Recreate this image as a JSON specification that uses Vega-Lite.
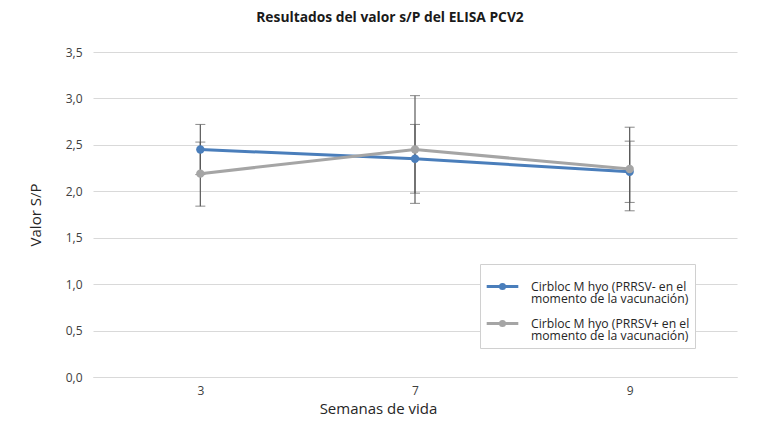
{
  "$schema": "https://vega.github.io/schema/vega-lite/v6.json",
  "width": 644,
  "height": 325,
  "autosize": "none",
  "padding": {"left": 93, "top": 52, "right": 43, "bottom": 51},
  "background": "white",
  "config": {
    "font": "Open Sans",
    "view": {"stroke": null},
    "axis": {"labelFont": "Open Sans", "titleFont": "Open Sans", "labelColor": "#404040", "titleColor": "#262626", "titleFontWeight": "normal"}
  },
  "title": {
    "text": "Resultados del valor s/P del ELISA PCV2",
    "font": "Open Sans",
    "fontSize": 13.8,
    "fontWeight": "bold",
    "color": "#1a1a1a",
    "anchor": "middle",
    "dx": -25,
    "offset": 21
  },
  "data": {
    "values": [
      {"serie": "Cirbloc M hyo (PRRSV- en el momento de la vacunación)", "semana": "3", "valor": 2.45, "bajo": 2.18, "alto": 2.72},
      {"serie": "Cirbloc M hyo (PRRSV- en el momento de la vacunación)", "semana": "7", "valor": 2.35, "bajo": 1.98, "alto": 2.72},
      {"serie": "Cirbloc M hyo (PRRSV- en el momento de la vacunación)", "semana": "9", "valor": 2.21, "bajo": 1.88, "alto": 2.54},
      {"serie": "Cirbloc M hyo (PRRSV+ en el momento de la vacunación)", "semana": "3", "valor": 2.19, "bajo": 1.84, "alto": 2.53},
      {"serie": "Cirbloc M hyo (PRRSV+ en el momento de la vacunación)", "semana": "7", "valor": 2.45, "bajo": 1.87, "alto": 3.03},
      {"serie": "Cirbloc M hyo (PRRSV+ en el momento de la vacunación)", "semana": "9", "valor": 2.24, "bajo": 1.79, "alto": 2.69}
    ]
  },
  "encoding": {
    "x": {
      "field": "semana",
      "type": "ordinal",
      "sort": ["3", "7", "9"],
      "scale": {"type": "point", "padding": 0.5},
      "axis": {
        "title": "Semanas de vida",
        "labelAngle": 0,
        "labelFontSize": 12,
        "labelPadding": 8,
        "ticks": false,
        "domainColor": "#d9d9d9",
        "domainWidth": 1,
        "titleFontSize": 15,
        "titlePadding": 5,
        "titleX": 285,
        "titleAnchor": "middle"
      }
    }
  },
  "layer": [
    {
      "mark": {"type": "errorbar", "ticks": {"size": 10, "color": "#595959", "strokeWidth": 1}, "rule": {"color": "#595959", "strokeWidth": 1.2}},
      "encoding": {
        "y": {"field": "bajo", "type": "quantitative", "title": "Valor S/P"},
        "y2": {"field": "alto"},
        "detail": {"field": "serie"}
      }
    },
    {
      "mark": {"type": "line", "strokeWidth": 3},
      "encoding": {
        "y": {
          "field": "valor",
          "type": "quantitative",
          "scale": {"domain": [0, 3.5]},
          "axis": {
            "title": "Valor S/P",
            "values": [0, 0.5, 1, 1.5, 2, 2.5, 3, 3.5],
            "labelExpr": "replace(format(datum.value, '.1f'), '.', ',')",
            "labelFontSize": 12,
            "labelPadding": 11,
            "ticks": false,
            "domain": false,
            "gridColor": "#d9d9d9",
            "titleFontSize": 15,
            "titlePadding": 22
          }
        },
        "color": {
          "field": "serie",
          "type": "nominal",
          "scale": {
            "domain": ["Cirbloc M hyo (PRRSV- en el momento de la vacunación)", "Cirbloc M hyo (PRRSV+ en el momento de la vacunación)"],
            "range": ["#4a7ebb", "#a5a5a5"]
          }
        }
      }
    },
    {
      "mark": {"type": "point", "filled": true, "size": 70, "opacity": 1},
      "encoding": {
        "y": {"field": "valor", "type": "quantitative", "title": "Valor S/P"},
        "color": {
          "field": "serie",
          "type": "nominal",
          "legend": {
            "title": null,
            "orient": "none",
            "legendX": 387,
            "legendY": 212,
            "strokeColor": "#d0d0d0",
            "fillColor": "white",
            "padding": 5,
            "symbolType": "M-1,0L1,0M0.13,0A0.13,0.13 0 1,1 -0.13,0A0.13,0.13 0 1,1 0.13,0Z",
            "symbolSize": 1000,
            "symbolStrokeWidth": 3,
            "symbolOpacity": 1,
            "labelExpr": "[slice(datum.label, 0, 27), slice(datum.label, 28)]",
            "labelFontSize": 12.2,
            "labelColor": "#262626",
            "labelLimit": 400,
            "labelOffset": 11,
            "rowPadding": -2,
            "encode": {
              "symbols": {"update": {"stroke": {"signal": "scale('color', datum.value)"}}},
              "labels": {"update": {"lineHeight": {"value": 12.5}}}
            }
          }
        }
      }
    }
  ]
}
